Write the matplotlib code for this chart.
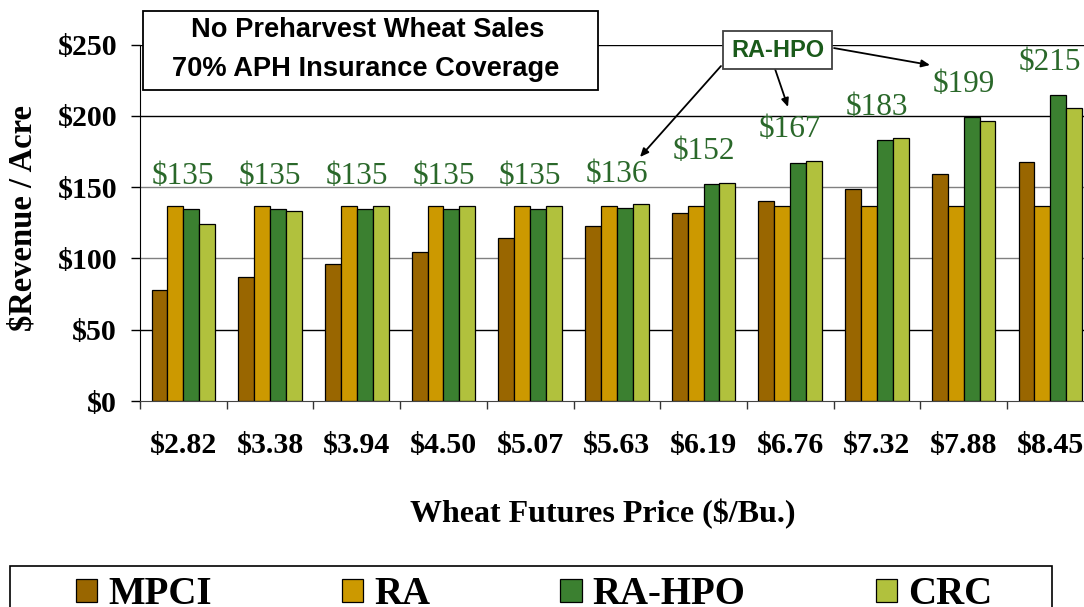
import matplotlib
matplotlib.use("Agg")
import matplotlib.pyplot as plt
from matplotlib.patches import Rectangle
import numpy as np

# ---- data ----
prices = ["$2.82", "$3.38", "$3.94", "$4.50", "$5.07", "$5.63",
          "$6.19", "$6.76", "$7.32", "$7.88", "$8.45"]
mpci   = [78, 87, 96, 104.5, 114, 123, 132, 140.5, 149, 159, 167.5]
ra     = [137, 137, 137, 137, 137, 137, 137, 137, 137, 137, 137]
ra_hpo = [134.6, 134.6, 134.6, 134.6, 134.6, 135.5, 152, 167, 183, 199, 214.5]
crc    = [124, 133, 137, 137, 137, 138, 153, 168.5, 184.5, 196.5, 205.5]
hpo_labels = [135, 135, 135, 135, 135, 136, 152, 167, 183, 199, 215]
series_names = ["MPCI", "RA", "RA-HPO", "CRC"]
yticks = [0, 50, 100, 150, 200, 250]

colors = ["#996600", "#CC9900", "#3B8030", "#B1C13D"]
grid_colors = {50: "#000000", 100: "#808080", 150: "#808080", 200: "#000000", 250: "#000000"}

W, H = 1084, 607
fig = plt.figure(figsize=(W / 100, H / 100), dpi=100)
serif = ["Liberation Serif", "DejaVu Serif"]
sans = ["Liberation Sans", "DejaVu Sans"]

ax = fig.add_axes([140 / W, 1 - 401 / H, 953.7 / W, 356.5 / H])

n = len(prices)
x = np.arange(n)
bw = 0.1835
all_series = [mpci, ra, ra_hpo, crc]
handles = []
for i, (vals, c, name) in enumerate(zip(all_series, colors, series_names)):
    b = ax.bar(x + (i - 1.5) * bw, vals, width=bw, color=c, edgecolor="black",
               linewidth=0.9, zorder=3, label=name)
    handles.append(b)

ax.set_xlim(-0.5, n - 0.5)
ax.set_ylim(0, 250)

# gridlines
for yv, gc in grid_colors.items():
    ax.axhline(yv, color=gc, linewidth=1.0, zorder=1)

ax.set_yticks(yticks)
ax.set_yticklabels([f"${v}" for v in yticks], fontfamily=serif, fontweight="bold", fontsize=21.5)
ax.tick_params(axis="y", direction="out", length=6.5, width=1, pad=10, colors="black")

ax.set_xticks(np.arange(-0.5, n, 1.0))
ax.set_xticklabels([])
ax.set_xticks(x, minor=True)
ax.set_xticklabels(prices, minor=True, fontfamily=serif, fontweight="bold", fontsize=21.5)
ax.tick_params(axis="x", which="major", direction="out", length=6, width=1, color="#333333")
ax.tick_params(axis="x", which="minor", length=0, pad=22)

for s in ["top", "right"]:
    ax.spines[s].set_visible(False)
ax.spines["left"].set_color("black")
ax.spines["bottom"].set_color("#444444")
ax.spines["left"].set_zorder(4)
ax.spines["bottom"].set_zorder(4)

# value labels for RA-HPO
for xi, v, lab in zip(x, ra_hpo, hpo_labels):
    ax.annotate(f"${lab}", xy=(xi, v), xytext=(0, 33), textcoords="offset pixels",
                ha="center", va="center", fontfamily=serif, fontsize=22.5,
                color="#2A682A", zorder=5, annotation_clip=False)

# callout box + arrows
arrow_kw = dict(arrowstyle="-|>,head_length=0.5,head_width=0.22", color="black", lw=1.3,
                shrinkA=0, shrinkB=0)
ax.annotate("", xy=(5.267, 171.1), xytext=(6.201, 234.9), arrowprops=arrow_kw, zorder=6,
            annotation_clip=False)
ax.annotate("", xy=(6.974, 206.2), xytext=(6.813, 234.9), arrowprops=arrow_kw, zorder=6,
            annotation_clip=False)
ax.annotate("", xy=(8.612, 235.6), xytext=(7.505, 247.5), arrowprops=arrow_kw, zorder=6,
            annotation_clip=False)
ax.text(6.853, 246.1, "RA-HPO", ha="center", va="center", fontfamily=sans,
        fontweight="bold", fontsize=17, color="#1A5A1A", zorder=7,
        bbox=dict(boxstyle="square,pad=0.32", facecolor="white", edgecolor="#404040", lw=1.3))

# title box
fig.patches.append(Rectangle((143 / W, 1 - 90 / H), (598 - 143) / W, 79 / H,
                             transform=fig.transFigure, facecolor="white",
                             edgecolor="black", linewidth=1.3, zorder=5))
fig.text(368 / W, 1 - 30 / H, "No Preharvest Wheat Sales", ha="center", va="center",
         fontfamily=sans, fontweight="bold", fontsize=19.6, zorder=6)
fig.text(366 / W, 1 - 69 / H, "70% APH Insurance Coverage", ha="center", va="center",
         fontfamily=sans, fontweight="bold", fontsize=19.6, zorder=6)

# axis labels
fig.text(603 / W, 1 - 514 / H, "Wheat Futures Price ($/Bu.)", ha="center", va="center",
         fontfamily=serif, fontweight="bold", fontsize=23)
fig.text(23 / W, 1 - 218 / H, "$Revenue / Acre", ha="center", va="center", rotation=90,
         fontfamily=serif, fontweight="bold", fontsize=23.5)

# legend
fig.patches.append(Rectangle((10 / W, 1 - 640 / H), (1052 - 10) / W, 74 / H,
                             transform=fig.transFigure, facecolor="white",
                             edgecolor="black", linewidth=1.2, zorder=5))
leg = fig.legend(handles=handles, labels=series_names, loc="center",
                 bbox_to_anchor=(534 / W, 1 - 595 / H), ncol=4, frameon=False,
                 prop={"family": serif, "weight": "bold", "size": 28},
                 handlelength=0.55, handleheight=0.55, handletextpad=0.28,
                 columnspacing=3.35, borderpad=0)
leg.set_zorder(6)

fig.savefig("out.png", dpi=100)
